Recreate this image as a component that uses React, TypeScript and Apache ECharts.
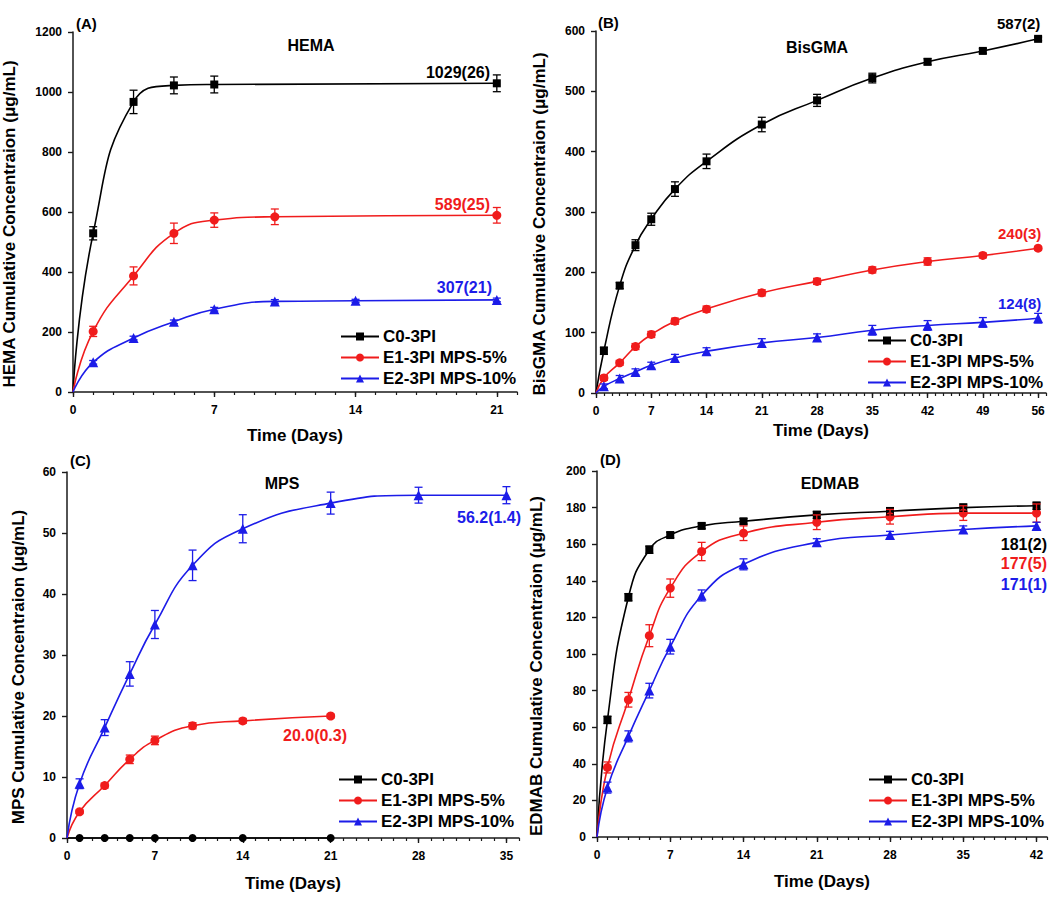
import React, { useEffect, useRef } from 'react';
import * as echarts from 'echarts';

const FONT = "Arial, 'Liberation Sans', sans-serif";
const BLACK = '#000000';
const RED = '#f01c1c';
const BLUE = '#1c1ce8';

const SERIES_NAMES = ['C0-3PI', 'E1-3PI MPS-5%', 'E2-3PI MPS-10%'];

// ---------- Panel A: HEMA ----------
const hemaDaysC0 = [1, 3, 5, 7, 21];
const hemaC0 = [529, 967, 1022, 1025, 1029];
const hemaC0Err = [22, 39, 28, 28, 28];
const hemaDaysE1 = [1, 3, 5, 7, 10, 21];
const hemaE1 = [202, 387, 529, 573, 584, 589];
const hemaE1Err = [17, 30, 34, 24, 26, 26];
const hemaDaysE2 = [1, 3, 5, 7, 10, 14, 21];
const hemaE2 = [99, 180, 234, 276, 302, 304, 307];
const hemaE2Err = [6, 6, 6, 6, 6, 5, 6];

// ---------- Panel B: BisGMA ----------
const bisDays = [1, 3, 5, 7, 10, 14, 21, 28, 35, 42, 49, 56];
const bisC0 = [70, 178, 245, 288, 338, 384, 445, 485, 522, 549, 567, 587];
const bisC0Err = [6, 5, 9, 10, 12, 12, 12, 10, 8, 5, 4, 3];
const bisE1 = [25, 50, 77, 97, 119, 139, 166, 185, 204, 218, 228, 240];
const bisE1Err = [4, 4, 5, 5, 5, 5, 5, 5, 5, 6, 4, 3];
const bisE2 = [11, 24, 35, 46, 58, 69, 83, 92, 104, 112, 117, 124];
const bisE2Err = [4, 5, 5, 5, 6, 6, 7, 6, 8, 8, 8, 8];

// ---------- Panel C: MPS ----------
const mpsDaysC0 = [1, 3, 5, 7, 10, 14, 21];
const mpsC0 = [0, 0, 0, 0, 0, 0, 0];
const mpsC0Err = [0, 0, 0, 0, 0, 0, 0];
const mpsDaysE1 = [1, 3, 5, 7, 10, 14, 21];
const mpsE1 = [4.3, 8.6, 12.9, 16.0, 18.4, 19.2, 20.0];
const mpsE1Err = [0.3, 0.4, 0.7, 0.7, 0.5, 0.4, 0.3];
const mpsDaysE2 = [1, 3, 5, 7, 10, 14, 21, 28, 35];
const mpsE2 = [8.9, 18.1, 26.9, 35.0, 44.7, 50.7, 54.9, 56.2, 56.2];
const mpsE2Err = [0.8, 1.3, 2.0, 2.3, 2.5, 2.3, 1.8, 1.3, 1.4];

// ---------- Panel D: EDMAB ----------
const edDays = [1, 3, 5, 7, 10, 14, 21, 28, 35, 42];
const edC0 = [64, 131, 157, 165, 170, 172.5, 176, 178, 180, 181];
const edC0Err = [2, 2, 2, 1.5, 1.5, 1.5, 2, 2, 2, 2];
const edE1 = [38, 75, 110, 136, 156, 166, 172, 175, 177, 177];
const edE1Err = [3, 4, 6, 5, 5, 4, 4, 4, 4, 5];
const edE2 = [27, 55, 80, 104, 132, 149, 161, 165, 168, 170];
const edE2Err = [3, 3, 4, 4, 3, 3, 2, 2, 2, 2];

const xMajorTicksA = [0, 7, 14, 21];
const xMajorTicksB = [0, 7, 14, 21, 28, 35, 42, 49, 56];
const xMajorTicksC = [0, 7, 14, 21, 28, 35];
const xMajorTicksD = [0, 7, 14, 21, 28, 35, 42];

type Group = { days: number[]; vals: number[]; errs: number[]; symbol: string; size: number; color: string };

const panels = [
  {
    grid: { left: 73, top: 32, width: 444, height: 360 },
    xMax: 22, majors: xMajorTicksA, yMax: 1200, yInterval: 200,
    yName: 'HEMA Cumulative Concentraion (\u03bcg/mL)', yNameGap: 55, xNameGap: 36,
    groups: [
      { days: hemaDaysC0, vals: hemaC0, errs: hemaC0Err, symbol: 'rect', size: 8, color: BLACK },
      { days: hemaDaysE1, vals: hemaE1, errs: hemaE1Err, symbol: 'circle', size: 9, color: RED },
      { days: hemaDaysE2, vals: hemaE2, errs: hemaE2Err, symbol: 'triangle', size: 10, color: BLUE },
    ] as Group[],
    legend: { left: 340, top: 328 },
  },
  {
    grid: { left: 596, top: 31, width: 450, height: 362 },
    xMax: 57, majors: xMajorTicksB, yMax: 600, yInterval: 100,
    yName: 'BisGMA Cumulative Concentraion (\u03bcg/mL)', yNameGap: 48, xNameGap: 30,
    groups: [
      { days: bisDays, vals: bisC0, errs: bisC0Err, symbol: 'rect', size: 8, color: BLACK },
      { days: bisDays, vals: bisE1, errs: bisE1Err, symbol: 'circle', size: 9, color: RED },
      { days: bisDays, vals: bisE2, errs: bisE2Err, symbol: 'triangle', size: 10, color: BLUE },
    ] as Group[],
    legend: { left: 867, top: 332 },
  },
  {
    grid: { left: 67, top: 472, width: 452, height: 366 },
    xMax: 36, majors: xMajorTicksC, yMax: 60, yInterval: 10,
    yName: 'MPS Cumulative Concentraion (\u03bcg/mL)', yNameGap: 40, xNameGap: 38,
    groups: [
      { days: mpsDaysC0, vals: mpsC0, errs: mpsC0Err, symbol: 'circle', size: 8, color: BLACK },
      { days: mpsDaysE1, vals: mpsE1, errs: mpsE1Err, symbol: 'circle', size: 9, color: RED },
      { days: mpsDaysE2, vals: mpsE2, errs: mpsE2Err, symbol: 'triangle', size: 10, color: BLUE },
    ] as Group[],
    legend: { left: 338, top: 771 },
  },
  {
    grid: { left: 597, top: 471, width: 451, height: 366 },
    xMax: 43, majors: xMajorTicksD, yMax: 200, yInterval: 20,
    yName: 'EDMAB Cumulative Concentraion (\u03bcg/mL)', yNameGap: 52, xNameGap: 37,
    groups: [
      { days: edDays, vals: edC0, errs: edC0Err, symbol: 'rect', size: 8, color: BLACK },
      { days: edDays, vals: edE1, errs: edE1Err, symbol: 'circle', size: 9, color: RED },
      { days: edDays, vals: edE2, errs: edE2Err, symbol: 'triangle', size: 10, color: BLUE },
    ] as Group[],
    legend: { left: 868, top: 771 },
  },
];

const texts = [
  // panel letters
  { text: '(A)', x: 76, y: 23, align: 'left', color: BLACK, size: 15 },
  { text: '(B)', x: 598, y: 22, align: 'left', color: BLACK, size: 15 },
  { text: '(C)', x: 70, y: 460, align: 'left', color: BLACK, size: 15 },
  { text: '(D)', x: 600, y: 459, align: 'left', color: BLACK, size: 15 },
  // titles
  { text: 'HEMA', x: 311, y: 45, align: 'center', color: BLACK, size: 16 },
  { text: 'BisGMA', x: 817, y: 47, align: 'center', color: BLACK, size: 16 },
  { text: 'MPS', x: 282, y: 483, align: 'center', color: BLACK, size: 16 },
  { text: 'EDMAB', x: 830, y: 483, align: 'center', color: BLACK, size: 16 },
  // annotations
  { text: '1029(26)', x: 490, y: 72, align: 'right', color: BLACK, size: 16 },
  { text: '589(25)', x: 490, y: 204, align: 'right', color: RED, size: 16 },
  { text: '307(21)', x: 492, y: 287, align: 'right', color: BLUE, size: 16 },
  { text: '587(2)', x: 997, y: 23, align: 'left', color: BLACK, size: 15 },
  { text: '240(3)', x: 998, y: 233, align: 'left', color: RED, size: 15 },
  { text: '124(8)', x: 998, y: 303, align: 'left', color: BLUE, size: 15 },
  { text: '56.2(1.4)', x: 457, y: 517, align: 'left', color: BLUE, size: 16 },
  { text: '20.0(0.3)', x: 283, y: 735, align: 'left', color: RED, size: 16 },
  { text: '181(2)', x: 1047, y: 544, align: 'right', color: BLACK, size: 16 },
  { text: '177(5)', x: 1047, y: 563, align: 'right', color: RED, size: 16 },
  { text: '171(1)', x: 1047, y: 584, align: 'right', color: BLUE, size: 16 },
];

function buildOption() {
  const grids: any[] = [];
  const xAxes: any[] = [];
  const yAxes: any[] = [];
  const series: any[] = [];
  const legends: any[] = [];
  const axisLine = { show: true, onZero: false, lineStyle: { color: '#1a1a1a', width: 1.5 } };
  const labelStyle = { color: '#000', fontWeight: 'bold', fontSize: 12, fontFamily: FONT };
  const nameStyle = { color: '#000', fontWeight: 'bold', fontSize: 17, fontFamily: FONT };

  panels.forEach((p, k) => {
    grids.push({ ...p.grid, containLabel: false });
    const minorIdx = xAxes.length;
    xAxes.push({
      type: 'value', gridIndex: k, position: 'bottom', min: 0, max: p.xMax, interval: 1,
      axisLine, splitLine: { show: false },
      axisTick: { show: true, length: 3, lineStyle: { color: '#1a1a1a', width: 1.2 } },
      axisLabel: { ...labelStyle, margin: 12, formatter: (v: number) => (v % 7 === 0 && v <= p.majors[p.majors.length - 1] ? String(v) : '') },
      name: 'Time (Days)', nameLocation: 'middle', nameGap: p.xNameGap - 1,
      nameTextStyle: nameStyle,
    });
    xAxes.push({
      type: 'value', gridIndex: k, position: 'bottom', min: 0, max: p.xMax, interval: 7,
      axisLine: { show: false }, splitLine: { show: false }, axisLabel: { show: false },
      axisTick: { show: true, length: 5, customValues: p.majors, lineStyle: { color: '#1a1a1a', width: 1.4 } },
    });
    yAxes.push({
      type: 'value', gridIndex: k, min: 0, max: p.yMax, interval: p.yInterval,
      axisLine, splitLine: { show: false },
      axisTick: { show: true, length: 5, lineStyle: { color: '#1a1a1a', width: 1.4 } },
      axisLabel: { ...labelStyle, margin: 11, formatter: (v: number) => String(v) },
      name: p.yName, nameLocation: 'middle', nameGap: p.yNameGap,
      nameTextStyle: { ...nameStyle, padding: [0, 24, 0, 0] },
    });
    p.groups.forEach((g, gi) => {
      const name = SERIES_NAMES[gi];
      series.push({
        type: 'line', name, xAxisIndex: minorIdx, yAxisIndex: k,
        data: [{ value: [0, 0], symbol: 'none' }, ...g.days.map((d, i) => [d, g.vals[i]])],
        smooth: 0.5, symbol: g.symbol, symbolSize: g.size, showAllSymbol: true,
        lineStyle: { color: g.color, width: 1.6 }, itemStyle: { color: g.color },
        z: 3, clip: false,
      });
      series.push({
        type: 'custom', name: name + ' error', xAxisIndex: minorIdx, yAxisIndex: k,
        data: g.days.map((d, i) => [d, g.vals[i], g.errs[i]]),
        encode: { x: 0, y: 1 }, z: 4,
        renderItem: (params: any, api: any) => {
          const x = api.value(0), y = api.value(1), e = api.value(2);
          if (!e) return null;
          const t = api.coord([x, y + e]);
          const b = api.coord([x, y - e]);
          const w = 4;
          const style = { stroke: g.color, lineWidth: 1.3 };
          return {
            type: 'group', children: [
              { type: 'line', shape: { x1: t[0], y1: t[1], x2: b[0], y2: b[1] }, style },
              { type: 'line', shape: { x1: t[0] - w, y1: t[1], x2: t[0] + w, y2: t[1] }, style },
              { type: 'line', shape: { x1: b[0] - w, y1: b[1], x2: b[0] + w, y2: b[1] }, style },
            ],
          };
        },
      });
    });
    legends.push({
      orient: 'vertical', left: p.legend.left, top: p.legend.top, padding: 0,
      itemWidth: 38, itemHeight: 10, itemGap: 4, selectedMode: false,
      data: SERIES_NAMES,
      textStyle: { color: '#000', fontWeight: 'bold', fontSize: 17, fontFamily: FONT, padding: [0, 0, 0, -1] },
    });
  });

  const graphic = texts.map((t) => ({
    type: 'text', x: t.x, y: t.y, silent: true,
    style: {
      text: t.text, fill: t.color, fontSize: t.size, fontWeight: 'bold', fontFamily: FONT,
      textAlign: t.align, align: t.align, textVerticalAlign: 'middle', verticalAlign: 'middle',
    },
  }));

  return {
    animation: false,
    backgroundColor: '#ffffff',
    textStyle: { fontFamily: FONT },
    grid: grids, xAxis: xAxes, yAxis: yAxes, series, legend: legends, graphic,
  };
}

export default function App() {
  const ref = useRef<HTMLDivElement>(null);
  useEffect(() => {
    if (!ref.current) return;
    const chart = echarts.init(ref.current, undefined, { renderer: 'svg' });
    chart.setOption(buildOption() as any);
    return () => chart.dispose();
  }, []);
  return <div ref={ref} style={{ position: 'absolute', left: 0, top: 0, width: 1050, height: 897 }} />;
}
